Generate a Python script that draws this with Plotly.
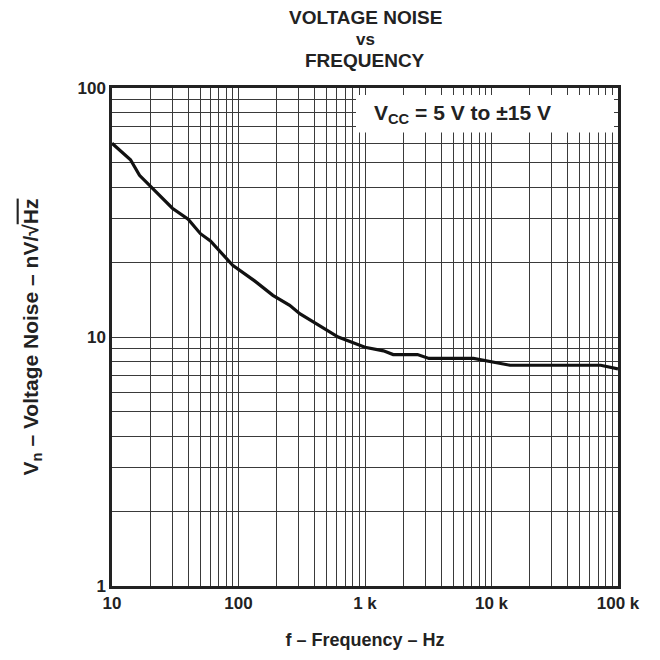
import plotly.graph_objects as go

# Data
freq_hz = [10, 14, 16.5, 20, 30, 40, 50, 60, 78, 90, 134, 187, 254, 305, 414, 614,
           760, 1000, 1400, 1670, 2600, 3200, 7200, 14000, 73000, 100000]
noise_nv = [60, 51.5, 44.6, 40.5, 32.9, 29.7, 26, 24.3, 21, 19.4, 16.8, 14.7, 13.4, 12.4,
            11.3, 10, 9.6, 9.1, 8.8, 8.5, 8.5, 8.2, 8.2, 7.7, 7.7, 7.45]

x_tickvals = [10, 100, 1000, 10000, 100000]
x_ticktext = ["10", "100", "1 k", "10 k", "100 k"]
y_tickvals = [1, 10, 100]
y_ticktext = ["1", "10", "100"]
title_lines = ["VOLTAGE NOISE", "vs", "FREQUENCY"]

x_minor = [m * 10 ** d for d in range(1, 5) for m in range(2, 10)]
y_minor = [m * 10 ** d for d in range(0, 2) for m in range(2, 10)]

FONT = "Liberation Sans, Arial, sans-serif"
GRID = "#3a3a3a"
INK = "#222222"

W, H = 652, 652
L, R, T, B = 104, 42, 80, 68
OFF = 8  # page body margin
plot_w = W - L - R
plot_h = H - T - B


def px_x(p):
    return (p - OFF - L) / plot_w


def px_y(p):
    return (plot_h - (p - OFF - T)) / plot_h


fig = go.Figure()
fig.add_trace(go.Scatter(x=freq_hz, y=noise_nv, mode="lines",
                         line=dict(color="#111111", width=3.2), showlegend=False))

axis_common = dict(
    type="log", showline=True, linecolor=INK, linewidth=2.5, mirror=True,
    showgrid=True, gridcolor=GRID, gridwidth=1.2, ticks="", zeroline=False,
    tickfont=dict(family=FONT, size=17, color=INK, weight="bold"),
)

fig.update_xaxes(
    **axis_common, range=[1, 5], tickmode="array", tickvals=x_tickvals, ticktext=x_ticktext,
    minor=dict(tickmode="array", tickvals=x_minor, showgrid=True, gridcolor=GRID, gridwidth=1.2, ticks=""),
    title=dict(text="<b>f – Frequency – Hz</b>", font=dict(family=FONT, size=18, color=INK), standoff=22),
)
fig.update_yaxes(
    **axis_common, range=[0, 2], tickmode="array", tickvals=y_tickvals, ticktext=y_ticktext,
    minor=dict(tickmode="array", tickvals=y_minor, showgrid=True, gridcolor=GRID, gridwidth=1.2, ticks=""),
    title=dict(text="<b>V<sub>n</sub> – Voltage Noise – nV/√<span style='text-decoration:overline'>Hz</span></b>",
               font=dict(family=FONT, size=21, color=INK), standoff=34),
)

# white legend box covering the grid in the top-right corner
fig.add_shape(type="rect", xref="paper", yref="paper",
              x0=px_x(356), x1=px_x(614), y0=px_y(133), y1=px_y(95),
              fillcolor="white", line=dict(width=0), layer="above")
fig.add_annotation(
    xref="paper", yref="paper", x=px_x(372), y=px_y(114), xanchor="left", yanchor="middle",
    text="<b>V<sub>CC</sub> = 5 V to ±15 V</b>", showarrow=False,
    font=dict(family=FONT, size=21, color=INK),
)

# three-line centred title, tight line spacing as in the reference
for i, (line, ypix) in enumerate(zip(title_lines, [17, 39, 60])):
    fig.add_annotation(
        xref="paper", yref="paper", x=0.5, y=px_y(ypix),
        xanchor="center", yanchor="middle", showarrow=False,
        text=f"<b>{line}</b>", font=dict(family=FONT, size=19 if i != 1 else 17, color=INK),
    )

fig.update_layout(
    width=W, height=H, paper_bgcolor="white", plot_bgcolor="white",
    margin=dict(l=L, r=R, t=T, b=B),
)

fig.write_html("out.html")
